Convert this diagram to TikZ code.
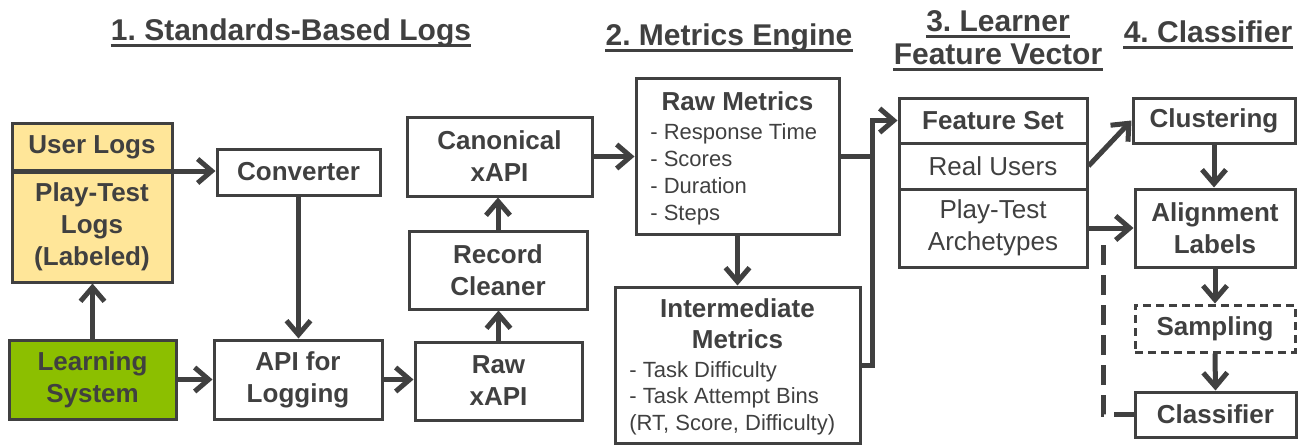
\documentclass[tikz,border=0pt]{standalone}
\usepackage{fontspec}
\setmainfont{Liberation Sans}
\usetikzlibrary{arrows.meta}
\definecolor{dg}{HTML}{404040}
\definecolor{ylw}{HTML}{FFE699}
\definecolor{grn}{HTML}{8CBF00}
\frenchspacing
\begin{document}
\begin{tikzpicture}[x=0.5pt,y=-0.5pt,
  sz/.style 2 args={minimum width={#1*0.5pt}, minimum height={#2*0.5pt}},
  box/.style={draw=dg, line width=1.5pt, text=dg, inner sep=0pt, align=center,
    font=\fontsize{13}{16}\selectfont\bfseries},
  rbox/.style={box, font=\fontsize{13}{16}\selectfont},
  dbox/.style={box, dash pattern=on 4pt off 2.5pt},
  tb/.style={text=dg, inner sep=0pt, font=\fontsize{13}{16}\selectfont\bfseries},
  tl/.style={text=dg, inner sep=0pt, font=\fontsize{11}{13.5}\selectfont},
  ttl/.style={text=dg, inner sep=0pt, font=\fontsize{15}{17}\selectfont\bfseries},
  uline/.style={draw=dg, line width=1.2pt},
  ln/.style={draw=dg, line width=2.5pt},
  arr/.style={ln, line join=miter, -{Straight Barb[length=7pt,width=12pt]}},
  dline/.style={ln, dash pattern=on 10pt off 5pt},
]
\useasboundingbox (0,0) rectangle (1308,445);

% titles
\node[ttl, anchor=base] (t1) at (291,40) {1. Standards-Based Logs};
\node[ttl, anchor=base] (t2) at (729,45) {2. Metrics Engine};
\node[ttl, anchor=base] (t3a) at (998,31) {3. Learner};
\node[ttl, anchor=base] (t3b) at (998,64) {Feature Vector};
\node[ttl, anchor=base] (t4) at (1208,42) {4. Classifier};
\foreach \t in {t1,t2,t3a,t3b,t4}
  \draw[uline] ([yshift=-2.8pt]\t.base west) -- ([yshift=-2.8pt]\t.base east);

% stage 1
\node[box,sz={160}{48},fill=ylw] (ul) at (92,147) {User Logs};
\node[box,sz={160}{111},fill=ylw] (pt) at (92,226.5) {Play-Test\\Logs\\(Labeled)};
\node[box,sz={167}{79},fill=grn] (ls) at (92.5,379.5) {Learning\\System};
\node[box,sz={163}{46}] (conv) at (298.5,172) {Converter};
\node[box,sz={168}{79}] (api) at (298,379.5) {API for\\Logging};
\node[box,sz={167}{78}] (rawx) at (498.5,381) {Raw\\xAPI};
\node[box,sz={178}{78}] (rc) at (498,270) {Record\\Cleaner};
\node[box,sz={185}{79}] (can) at (499.5,156.5) {Canonical\\xAPI};

% stage 2
\node[box,sz={203}{156}] (rm) at (737.5,156) {};
\node[tb, anchor=base] (rmh) at (737.5,110) {Raw Metrics};
\node[tl, anchor=base west] (rm1) at (650,139) {- Response Time};
\node[tl, anchor=base west] (rm2) at (650,166) {- Scores};
\node[tl, anchor=base west] (rm3) at (650,193) {- Duration};
\node[tl, anchor=base west] (rm4) at (650,220) {- Steps};
\node[box,sz={245}{156}] (im) at (737.5,365) {};
\node[tb, anchor=base] (imh1) at (737.5,317) {Intermediate};
\node[tb, anchor=base] (imh2) at (737.5,348) {Metrics};
\node[tl, anchor=base west] (im1) at (629,377) {- Task Difficulty};
\node[tl, anchor=base west] (im2) at (629,403) {- Task Attempt Bins};
\node[tl, anchor=base west] (im3) at (629,430) {(RT, Score, Difficulty)};

% stage 3
\node[box,sz={188}{45}] (fs1) at (993,120.5) {Feature Set};
\node[rbox,sz={188}{46}] (fs2) at (993,166) {Real Users};
\node[rbox,sz={188}{78}] (fs3) at (993,228) {Play-Test\\Archetypes};

% stage 4
\node[box,sz={162}{45}] (clu) at (1214,120.5) {Clustering};
\node[box,sz={160}{78}] (al) at (1215,228) {Alignment\\Labels};
\node[dbox,sz={160}{47}] (samp) at (1215,328.5) {Sampling};
\node[box,sz={161}{45}] (cls) at (1215.5,414.5) {Classifier};

% connectors
\coordinate (dv) at (12,171);
\draw[arr] (dv) -- (dv -| conv.west);
\draw[arr] (ls.north) -- (ls.north |- pt.south);
\draw[arr] (ls.east) -- (ls.east -| api.west);
\draw[arr] (conv.south) -- (conv.south |- api.north);
\draw[arr] (api.east) -- (api.east -| rawx.west);
\draw[arr] (rawx.north) -- (rawx.north |- rc.south);
\draw[arr] (rc.north) -- (rc.north |- can.south);
\draw[arr] (can.east) -- (can.east -| rm.west);
\draw[arr] (rm.south) -- (im.north);
\coordinate (jt) at (872,120.5);
\draw[ln] (rm.east) -- (rm.east -| jt);
\draw[arr] (im.east) -| (jt) -- (fs1.west);
\draw[arr] (fs2.east) -- (clu.west);
\draw[arr] (fs3.east) -- (fs3.east -| al.west);
\draw[arr] (clu.south) -- (clu.south |- al.north);
\draw[arr] (al.south) -- (samp.north);
\draw[arr] (samp.south) -- (cls.north);
\coordinate (dc) at (1103,237);
\draw[dline] (cls.west) -| (dc);
\end{tikzpicture}
\end{document}
